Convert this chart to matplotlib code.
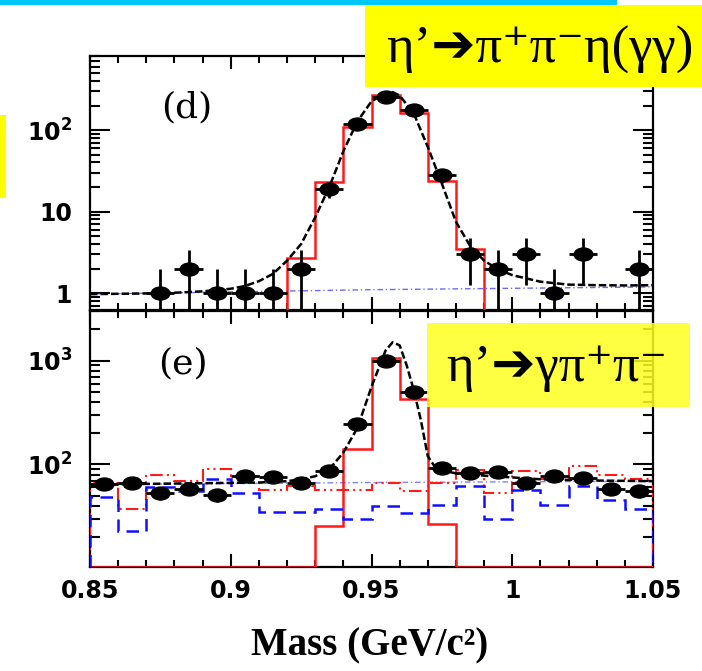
import numpy as np
import matplotlib
matplotlib.use('Agg')
import matplotlib.pyplot as plt
from matplotlib.path import Path
from matplotlib.transforms import Affine2D
from matplotlib.patches import Rectangle
from matplotlib.ticker import MultipleLocator, LogLocator, FixedLocator, FixedFormatter, NullFormatter

# Mass bins (GeV/c^2);
edges = np.linspace(0.85, 1.05, 21)
centres = 0.5 * (edges[:-1] + edges[1:])

# Panel (d): eta' -> pi+ pi- eta(gamma gamma);
data_d = np.array([0, 0, 1, 2, 1, 1, 1, 2, 19, 120, 257, 176, 28, 3, 2, 3, 1, 3, 0, 2], dtype=float)
signal_d = np.array([0, 0, 0, 0, 0, 0, 0, 2.7, 23, 108, 268, 160, 23.7, 3.5, 0, 0, 0, 0, 0, 0])
fit_d_mass = [0.850, 0.860, 0.870, 0.880, 0.890, 0.900, 0.905, 0.910, 0.915, 0.920, 0.925,
              0.930, 0.935, 0.940, 0.945, 0.950, 0.955, 0.9575, 0.960, 0.965, 0.970, 0.975,
              0.980, 0.985, 0.990, 0.995, 1.000, 1.010, 1.020, 1.030, 1.040, 1.050]
fit_d = [0.97, 0.98, 0.99, 1.01, 1.05, 1.13, 1.22, 1.4, 1.72, 2.5, 4.0,
         8.5, 20, 55, 128, 225, 285, 292, 265, 160, 62, 22,
         7.5, 3.8, 2.5, 1.95, 1.66, 1.38, 1.27, 1.25, 1.24, 1.25]
bkg_d_mass = [0.85, 0.95, 1.05]
bkg_d = [0.97, 1.1, 1.19]

# Panel (e): eta' -> gamma pi+ pi-;
data_e = np.array([65, 66, 53, 58, 51, 77, 75, 67, 86, 244, 1000, 494, 92, 83, 84, 66, 77, 74, 58, 55], dtype=float)
signal_e = np.array([0, 0, 0, 0, 0, 0, 0, 0, 25.5, 140, 1055, 425, 27, 0, 0, 0, 0, 0, 0, 0])
other_e = np.array([66, 37, 80, 69, 91, 78, 57, 62, 57, 57, 67, 55, 67, 89, 53, 86, 72, 96, 80, 72])
sideband_e = np.array([49, 23, 61, 56, 72, 53, 35, 35, 37, 30, 40, 34, 41, 62, 30, 57, 41, 62, 45, 37])
fit_e_mass = [0.850, 0.870, 0.890, 0.910, 0.920, 0.925, 0.930, 0.935, 0.940, 0.945, 0.950,
              0.955, 0.9575, 0.960, 0.9625, 0.965, 0.9675, 0.970, 0.9725, 0.975, 0.980,
              0.990, 1.000, 1.010, 1.030, 1.050]
fit_e = [64, 65, 66, 67, 69, 72, 77, 90, 130, 225, 560,
         1250, 1500, 1400, 900, 520, 270, 120, 95, 88, 82,
         78, 75, 72, 70, 69]
bkg_e_mass = [0.85, 0.95, 1.05]
bkg_e = [64, 67, 69]

ylim_d = (0.62, 810)
ylim_e = (10.3, 3000)

plt.rcParams['font.family'] = ['DejaVu Sans']
plt.rcParams['font.weight'] = 'bold'
plt.rcParams['mathtext.fontset'] = 'dejavusans'

W, H = 702, 671
fig = plt.figure(figsize=(W / 100, H / 100), dpi=100)


def box(x0, y0, x1, y1):
    # pixel box (top-left origin) -> figure fraction rect;
    return [x0 / W, 1 - y1 / H, (x1 - x0) / W, (y1 - y0) / H]


def rect(x0, y0, x1, y1, **kw):
    b = box(x0, y0, x1, y1)
    fig.patches.append(Rectangle(b[:2], b[2], b[3], transform=fig.transFigure, lw=0, zorder=1, **kw))


ax1 = fig.add_axes(box(90, 56, 653, 310))
ax2 = fig.add_axes(box(90, 311, 653, 567))

ell = Path.unit_circle().transformed(Affine2D().scale(1.45, 1.0))
red = '#ff1a1a'
blue = '#1010ff'


def draw_points(ax, y):
    m = y > 0
    err = np.sqrt(y[m])
    lo = np.minimum(err, y[m] * 0.999)
    ax.errorbar(centres[m], y[m], xerr=0.005, yerr=[lo, err], fmt='none',
                ecolor='k', elinewidth=2.0, capsize=0, zorder=5)
    ax.plot(centres[m], y[m], ls='none', marker=ell, ms=13.5, color='k', zorder=6)


# Panel (d);
nz = np.nonzero(signal_d)[0]
ax1.stairs(signal_d[nz[0]:nz[-1] + 1], edges[nz[0]:nz[-1] + 2], baseline=ylim_d[0],
           color=red, lw=1.8, zorder=3)
ax1.plot(bkg_d_mass, bkg_d, color='#6a6aff', lw=1.0, ls=(0, (4, 2, 1, 2)), zorder=2)
ax1.plot(fit_d_mass, fit_d, color='k', lw=1.8, ls=(0, (3, 1.2)), zorder=4)
draw_points(ax1, data_d)
ax1.set_ylim(*ylim_d)

# Panel (e);
ax2.stairs(np.maximum(signal_e, ylim_e[0]), edges, baseline=ylim_e[0], color=red, lw=1.8, zorder=3)
ax2.stairs(other_e, edges, baseline=ylim_e[0], color=red, lw=1.5,
           ls=(0, (6, 2, 1, 2, 1, 2)), zorder=3)
ax2.stairs(sideband_e, edges, baseline=ylim_e[0], color=blue, lw=1.8, ls=(0, (5, 3)), zorder=3)
ax2.plot(bkg_e_mass, bkg_e, color='#8080ff', lw=1.0, ls=(0, (4, 2, 1, 2)), zorder=2)
ax2.plot(fit_e_mass, fit_e, color='k', lw=1.8, ls=(0, (3, 1.2)), zorder=4)
draw_points(ax2, data_e)
ax2.set_ylim(*ylim_e)

for ax in (ax1, ax2):
    ax.set_xlim(0.85, 1.05)
    ax.set_yscale('log')
    ax.xaxis.set_major_locator(MultipleLocator(0.05))
    ax.xaxis.set_minor_locator(MultipleLocator(0.01))
    ax.yaxis.set_minor_locator(LogLocator(base=10, subs=np.arange(2, 10)))
    ax.yaxis.set_minor_formatter(NullFormatter())
    ax.tick_params(which='both', direction='in', top=True, right=True, width=1.5, color='k')
    ax.xaxis.set_tick_params(which='major', length=9.5)
    ax.xaxis.set_tick_params(which='minor', length=5)
    ax.yaxis.set_tick_params(which='major', length=14.5, labelsize=17, pad=13)
    ax.yaxis.set_tick_params(which='minor', length=7)
    for s in ax.spines.values():
        s.set_linewidth(1.6)

ax1.yaxis.set_major_locator(FixedLocator([1, 10, 100]))
ax1.yaxis.set_major_formatter(FixedFormatter(['1', '10', r'$\mathbf{10^{2}}$']))
ax1.tick_params(axis='x', labelbottom=False)
ax2.yaxis.set_major_locator(FixedLocator([100, 1000]))
ax2.yaxis.set_major_formatter(FixedFormatter([r'$\mathbf{10^{2}}$', r'$\mathbf{10^{3}}$']))
ax2.xaxis.set_major_locator(FixedLocator([0.85, 0.9, 0.95, 1.0, 1.05]))
ax2.xaxis.set_major_formatter(FixedFormatter(['0.85', '0.9', '0.95', '1', '1.05']))
ax2.tick_params(axis='x', labelsize=17, pad=9)

# Panel tags;
fig.text(187 / W, 1 - 107 / H, '(d)', family='DejaVu Serif', weight='normal', fontsize=26,
         ha='center', va='center')
fig.text(183 / W, 1 - 363 / H, '(e)', family='DejaVu Serif', weight='normal', fontsize=26,
         ha='center', va='center')

# Slide decorations;
rect(0, 0, 617, 5, color='#00c8ff')
rect(0, 115, 6, 198, color='#ffff00')
rect(365, 5, 702, 87, color='#ffff00')
rect(427, 323, 690, 407, color='#ffff20', alpha=0.85)

serif = ['Liberation Serif', 'DejaVu Serif', 'DejaVu Sans']
fig.text(540 / W, 1 - 50 / H, 'η’➔π⁺π⁻η(γγ)', family=serif, weight='normal', fontsize=38,
         ha='center', va='center')
fig.text(557 / W, 1 - 368 / H, 'η’➔γπ⁺π⁻', family=serif, weight='normal', fontsize=38,
         ha='center', va='center')

fig.text(370 / W, 1 - 646 / H, 'Mass (GeV/c²)', family='Liberation Serif', weight='bold',
         fontsize=28, ha='center', va='center')

fig.savefig('out.png', dpi=100)
